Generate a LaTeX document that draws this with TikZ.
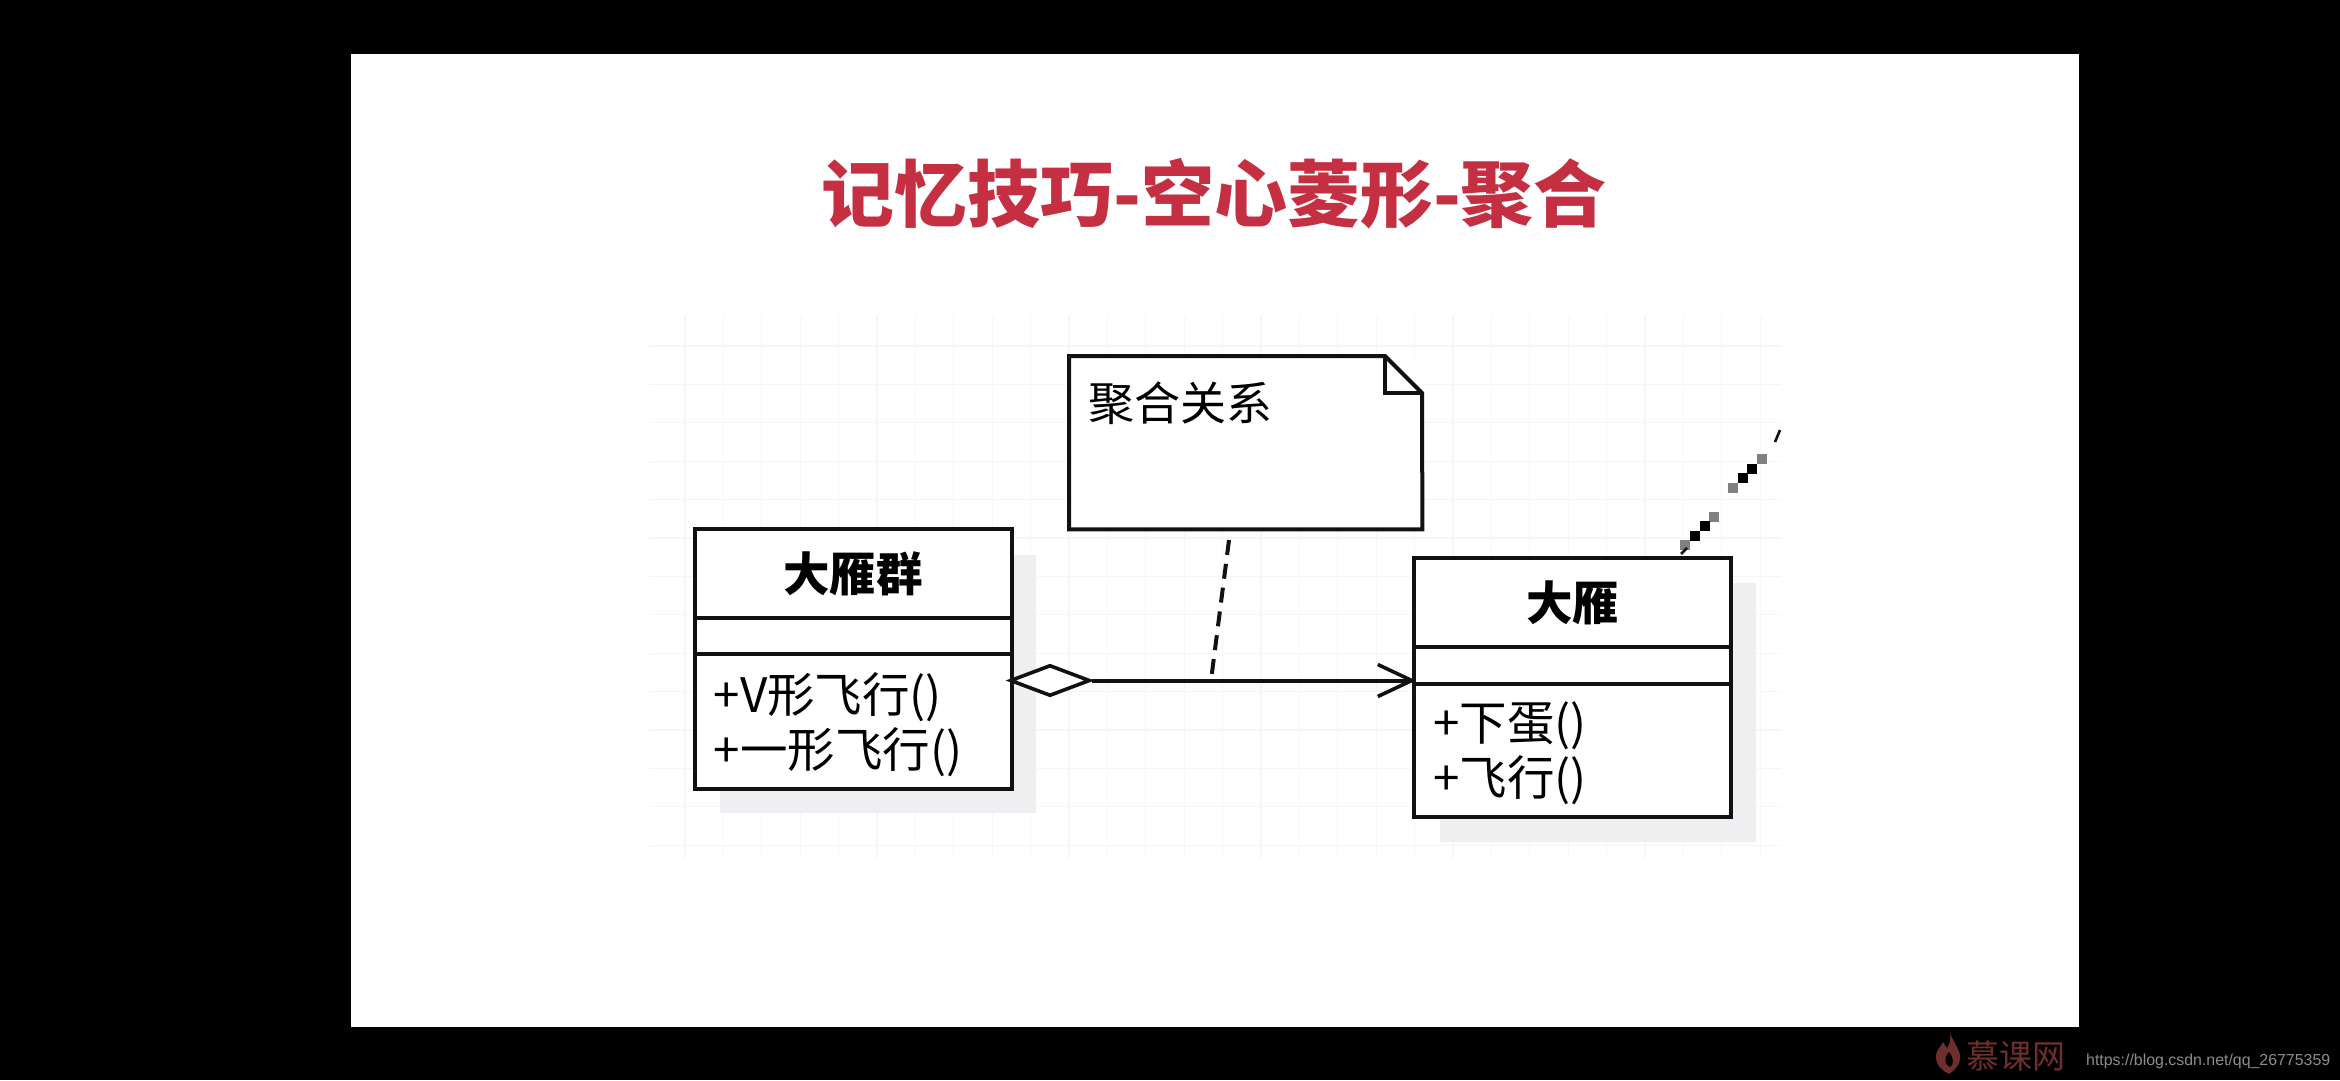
\documentclass[tikz,border=0pt]{standalone}
\usepackage{fontspec}
\setmainfont{Noto Sans CJK SC}
\newfontfamily\urlfont{Liberation Sans}
\usetikzlibrary{shapes.geometric,arrows.meta}
\definecolor{titlered}{HTML}{C52F42}
\definecolor{gridc}{HTML}{F6F5F8}
\definecolor{shadowc}{HTML}{EFEEF1}
\definecolor{ink}{HTML}{111111}
\definecolor{wmred}{HTML}{6E2F2C}
\definecolor{wmgrey}{HTML}{8C8C8C}
\tikzset{
  umlbox/.style={draw=ink,line width=4pt,fill=white,inner sep=0pt,outer sep=0pt,minimum width=#1},
  umlhead/.style={font=\fontsize{46.5}{46.5}\selectfont\bfseries},
  umlops/.style={inner sep=0pt,anchor=west,font=\fontsize{47.5}{54.5}\selectfont,align=left},
  shadowbox/.style={fill=shadowc,draw=none},
  link/.style={draw=ink,line width=4pt},
  pxk/.style={fill=black,draw=none},
  pxg/.style={fill=black!50,draw=none}
}
\begin{document}
\begin{tikzpicture}[x=1pt,y=-1pt]
\useasboundingbox (0,0) rectangle (2340,1080);
\fill[black] (0,0) rectangle (2340,1080);
\fill[white] (351,54) rectangle (2079,1027);
% grid
\foreach \i in {0,...,28} \draw[gridc,line width=1.2pt] ({685+38.4*\i},316) -- ({685+38.4*\i},858);
\foreach \i in {0,...,13} \draw[gridc,line width=1.2pt] (649,{346+38.4*\i}) -- (1781,{346+38.4*\i});
% title
\node[inner sep=0pt,font=\fontsize{73}{73}\selectfont\bfseries,text=titlered] (title) at (1214,194) {记忆技巧-空心菱形-聚合};
% shadows
\fill[shadowbox] (720,554.5) rectangle (1036,813);
\fill[shadowbox] (1440,583) rectangle (1756,842);
% class A
\node[umlbox=317pt,minimum height=89pt,anchor=north west,umlhead] (ah) at (694.5,529) {大雁群};
\node[umlbox=317pt,minimum height=36pt,anchor=north] (aa) at (ah.south) {};
\node[umlbox=317pt,minimum height=135pt,anchor=north] (ao) at (aa.south) {};
\node[umlops] (aotxt) at ([xshift=19pt,yshift=-3pt]ao.west) {+V形飞行()\\+一形飞行()};
% class B
\node[umlbox=317pt,minimum height=89pt,anchor=north west,umlhead] (bh) at (1414,558) {大雁};
\node[umlbox=317pt,minimum height=36.5pt,anchor=north] (ba) at (bh.south) {};
\node[umlbox=317pt,minimum height=133.5pt,anchor=north] (bo) at (ba.south) {};
\node[umlops] (botxt) at ([xshift=19pt,yshift=-3pt]bo.west) {+下蛋()\\+飞行()};
% note
\node[fill=white,inner sep=0pt,minimum width=353pt,minimum height=173pt,anchor=north west] (note) at (1069,356) {};
\draw[draw=ink,line width=4pt,line join=miter] (note.north west) -- (1385,356) -- (1422,393) -- (note.south east) -- (note.south west) -- cycle;
\draw[draw=ink,line width=3.6pt,line join=miter] (1385,356) -- (1385,393) -- (1422,393);
\node[inner sep=0pt,anchor=west,font=\fontsize{46}{46}\selectfont] (notetxt) at (1088,403) {聚合关系};
% connector
\node[diamond,draw=ink,line width=3.6pt,fill=white,inner sep=0pt,aspect=2.55,minimum width=80pt,minimum height=31pt] (dia) at (1050,680.5) {};
\coordinate (tip) at (1416,680.5);
\coordinate (notefoot) at (1229,540);
\coordinate (joint) at (1211,680.5);
\draw[link,-{Straight Barb[length=34pt,width=32pt,line width=3.6pt]}] (dia.east) -- (tip);
\draw[link,dash pattern=on 15pt off 9pt] (notefoot) -- (joint);
% pixelated fragment
\foreach \x/\y in {1685/545,1714/516.7,1733/487.6,1762/459} \fill[pxg] (\x-5,\y-5) rectangle (\x+5,\y+5);
\foreach \x/\y in {1694.6/535.6,1704.5/526,1743/478,1752/469} \fill[pxk] (\x-5,\y-5) rectangle (\x+5,\y+5);
\draw[ink,line width=2.6pt] (1681,554) -- (1687,548);
\draw[ink,line width=2.6pt] (1775,442) -- (1780,430);
% watermark
\fill[wmred] (1950,1033) .. controls (1954,1044) and (1961,1050) .. (1960,1059) .. controls (1959,1067) and (1953,1071) .. (1949,1074) .. controls (1943,1071) and (1936,1066) .. (1936,1057) .. controls (1936,1049) and (1941,1047) .. (1943,1042) .. controls (1945,1045) and (1946,1047) .. (1947,1048) .. controls (1950,1044) and (1951,1039) .. (1950,1033) -- cycle;
\fill[black] (1949,1052) .. controls (1954,1058) and (1954,1064) .. (1950,1067) .. controls (1945,1065) and (1943,1059) .. (1949,1052) -- cycle;
\node[inner sep=0pt,anchor=west,text=wmred,font=\fontsize{33}{33}\selectfont] (wm) at (1966,1056) {慕课网};
\node[inner sep=0pt,anchor=west,text=wmgrey,font=\urlfont\fontsize{15.9}{18}\selectfont] (wmurl) at (2086,1061) {https://blog.csdn.net/qq\_26775359};
\end{tikzpicture}
\end{document}
